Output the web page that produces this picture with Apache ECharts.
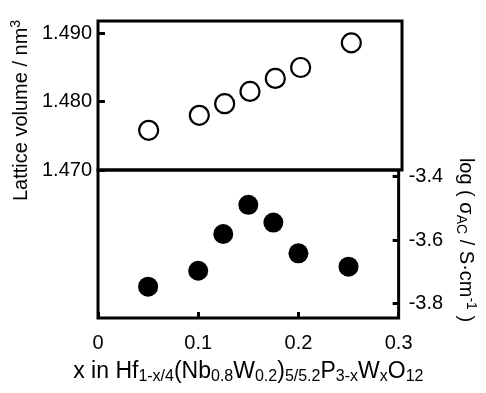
<!DOCTYPE html>
<html>
<head>
<meta charset="utf-8">
<script src="https://cdn.jsdelivr.net/npm/echarts@6/dist/echarts.min.js"></script>
<style>html,body{margin:0;padding:0;background:#fff;}#c{width:486px;height:393px;}</style>
</head>
<body>
<div id="c"></div>
<script>
var xValues = [0.05, 0.10, 0.125, 0.15, 0.175, 0.20, 0.25];
var latticeVolume = [1.4758, 1.4780, 1.4797, 1.4815, 1.4834, 1.4850, 1.4886];
var logSigma = [-3.747, -3.697, -3.581, -3.489, -3.545, -3.642, -3.684];
var xTicks = [0, 0.1, 0.2, 0.3];
var volTicks = [1.470, 1.480, 1.490];
var sigmaTicks = [-3.8, -3.6, -3.4];

var FONT = 'Liberation Sans, Arial, sans-serif';
var chart = echarts.init(document.getElementById('c'));
var topData = xValues.map(function (x, i) { return [x, latticeVolume[i]]; });
var botData = xValues.map(function (x, i) { return [x, logSigma[i]]; });
function sub(fs, p) { return { fontSize: fs, fontFamily: FONT, color: '#000', padding: [p, 0, 0, 0] }; }
function sup(fs, p) { return { fontSize: fs, fontFamily: FONT, color: '#000', padding: [0, 0, p, 0] }; }
var tickLine = { color: '#000', width: 3 };

chart.setOption({
  animation: false,
  backgroundColor: '#fff',
  grid: [
    { left: 98, width: 304, top: 21, height: 149, show: true, borderColor: '#000', borderWidth: 3, backgroundColor: 'transparent' },
    { left: 98, width: 304, top: 170, height: 148, show: true, borderColor: '#000', borderWidth: 3, backgroundColor: 'transparent' }
  ],
  xAxis: [
    { gridIndex: 0, type: 'value', min: 0, max: 0.3, axisLine: { show: false, onZero: false }, axisTick: { show: false }, axisLabel: { show: false }, splitLine: { show: false } },
    { gridIndex: 1, type: 'value', min: 0, max: 0.3,
      axisLine: { show: false, onZero: false },
      axisTick: { show: true, inside: true, length: 6, lineStyle: tickLine, customValues: xTicks },
      axisLabel: { show: true, margin: 15, fontSize: 20, fontFamily: FONT, color: '#000', customValues: xTicks,
        formatter: function (v) { return v === 0 ? '0' : v.toFixed(1); } },
      splitLine: { show: false },
      name: 'x in Hf{sub|1-x/4}(Nb{sub|0.8}W{sub|0.2}){sub|5/5.2}P{sub|3-x}W{sub|x}O{sub|12}',
      nameLocation: 'middle', nameGap: 40,
      nameTextStyle: { fontSize: 23, fontFamily: FONT, color: '#000', rich: { sub: sub(16, 11) } }
    }
  ],
  yAxis: [
    { gridIndex: 0, type: 'value', min: 1.470, max: 1.4918, position: 'left',
      axisLine: { show: false, onZero: false },
      axisTick: { show: true, inside: true, length: 7, lineStyle: tickLine, customValues: volTicks },
      axisLabel: { show: true, margin: 6, fontSize: 20, fontFamily: FONT, color: '#000', customValues: volTicks,
        formatter: function (v) { return v.toFixed(3); } },
      splitLine: { show: false },
      name: 'Lattice volume / nm{sup|3}', nameLocation: 'middle', nameGap: 61,
      nameTextStyle: { fontSize: 20, fontFamily: FONT, color: '#000', padding: [0, 30, 0, 0], rich: { sup: sup(14, 10) } }
    },
    { gridIndex: 1, type: 'value', min: -3.846, max: -3.379, position: 'right',
      axisLine: { show: false, onZero: false },
      axisTick: { show: true, inside: true, length: 6, lineStyle: tickLine, customValues: sigmaTicks },
      axisLabel: { show: true, margin: 10, fontSize: 20, fontFamily: FONT, color: '#000', customValues: sigmaTicks,
        formatter: function (v) { return v.toFixed(1); } },
      splitLine: { show: false },
      name: 'log ( σ{sub|AC} / S·cm{sup|-1} )', nameLocation: 'middle', nameGap: 54, nameRotate: -90,
      nameTextStyle: { fontSize: 20, fontFamily: FONT, color: '#000', padding: [0, 8, 0, 0], rich: { sub: sub(14, 10), sup: sup(14, 10) } }
    }
  ],
  series: [
    { type: 'scatter', xAxisIndex: 0, yAxisIndex: 0, data: topData, symbol: 'circle', symbolSize: 19,
      itemStyle: { color: '#fff', borderColor: '#000', borderWidth: 2.2, opacity: 1 } },
    { type: 'scatter', xAxisIndex: 1, yAxisIndex: 1, data: botData, symbol: 'circle', symbolSize: 20,
      itemStyle: { color: '#000', opacity: 1 } }
  ]
});
</script>
</body>
</html>
